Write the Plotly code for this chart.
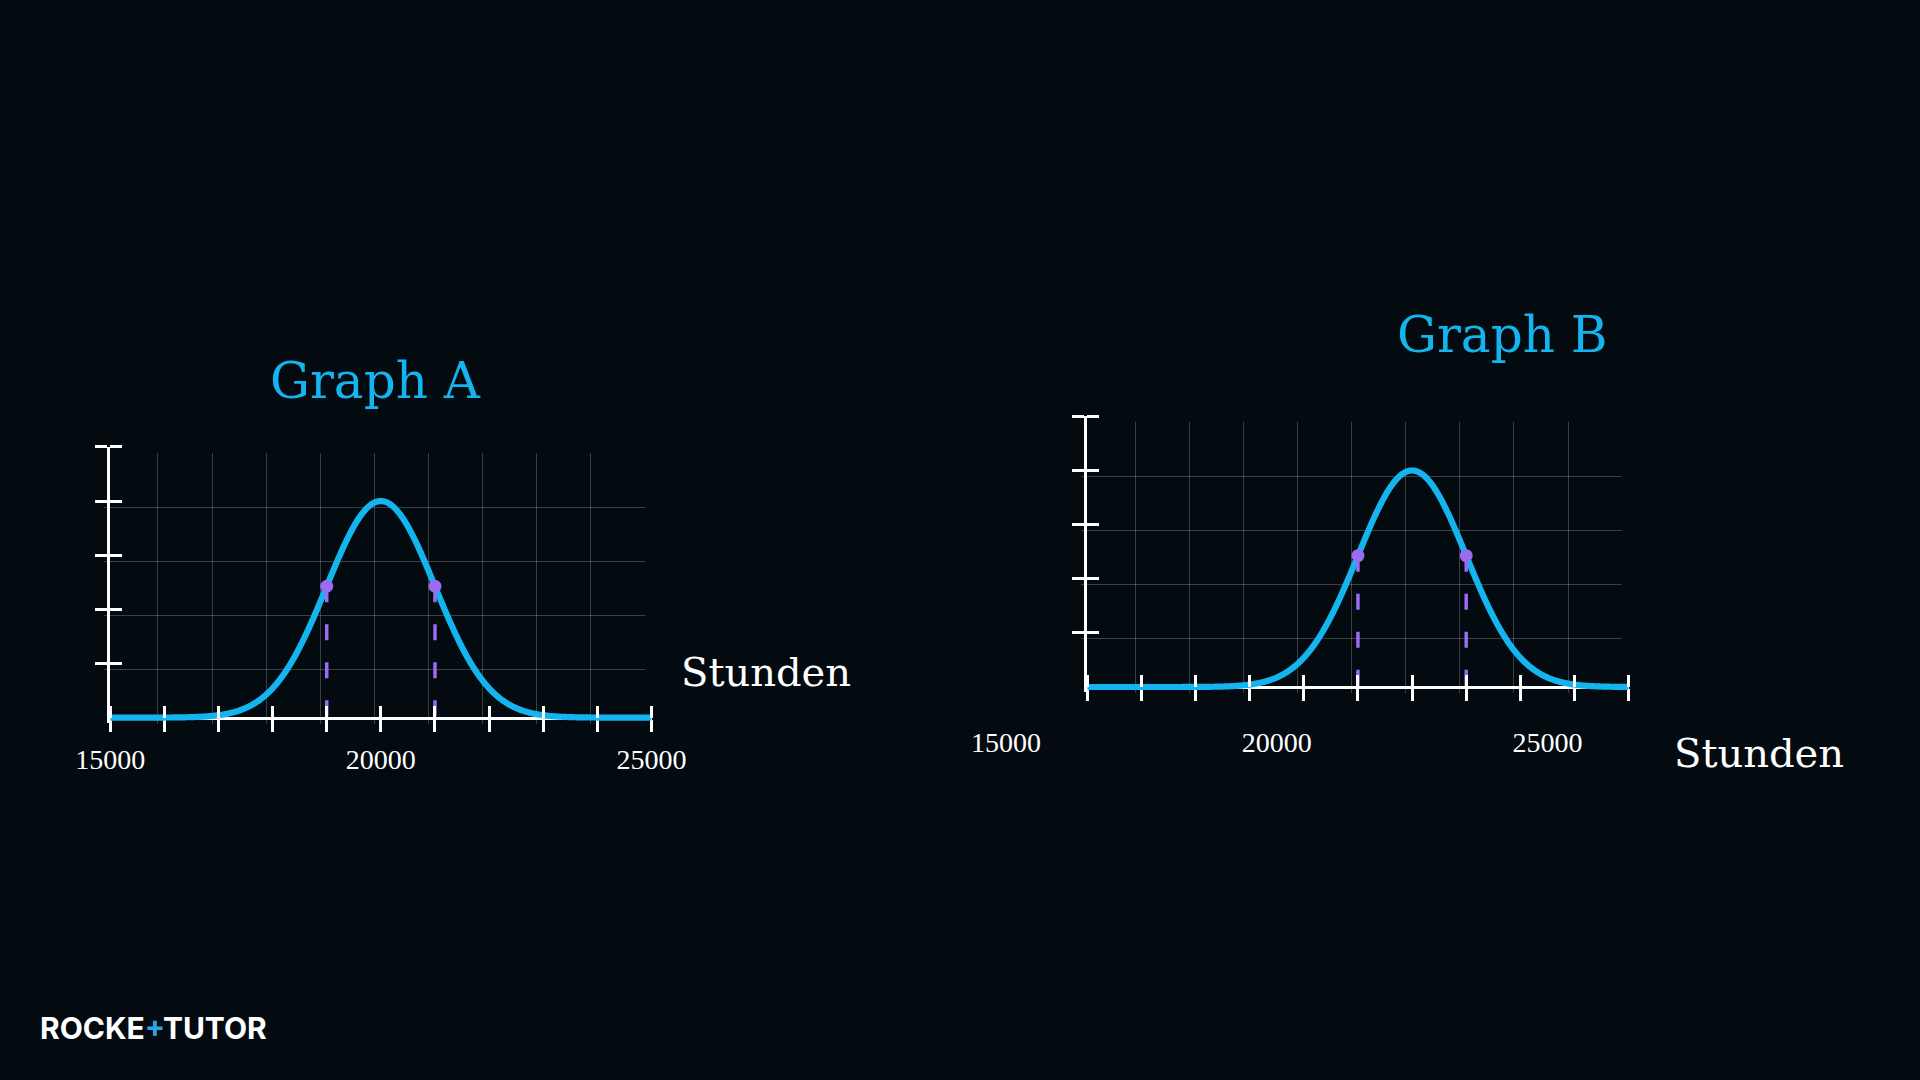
import numpy as np
import plotly.graph_objects as go

# ---------------- data ----------------
titles = ["Graph A", "Graph B"]
axis_title = "Stunden"
mean_A, sd_A, peak_A = 20000, 1000, 4
mean_B, sd_B, peak_B = 22500, 1000, 4
x_range_A = [15000, 25000]
x_range_B = [16500, 26500]
x_ticks_A = list(range(15000, 25001, 1000))
x_ticks_B = list(range(16500, 26501, 1000))
y_ticks = [1, 2, 3, 4, 5]
grid_x_A = list(range(15000, 25000, 1000))
grid_x_B = list(range(16500, 26500, 1000))
grid_y = [0, 1, 2, 3, 4]
tick_labels_A = [15000, 20000, 25000]
tick_labels_B = [15000, 20000, 25000]
sd_marks_A = [mean_A - sd_A, mean_A + sd_A]
sd_marks_B = [mean_B - sd_B, mean_B + sd_B]

# ---------------- style ----------------
W, H = 1920, 1080
BG = "#030a10"
BLUE = "#14b4ee"
PURPLE = "#9a6cf2"
GRID = "rgba(255,255,255,0.22)"
WHITE = "#ffffff"
Y_MAX = 5
Y_PAD = 0.1


def px_x(a, b):
    return [a / W, b / W]


def px_y(top, bottom):
    return [1 - bottom / H, 1 - top / H]


def py(v):
    return 1 - v / H


def gauss(x, mu, sd, peak):
    return peak * np.exp(-0.5 * ((np.asarray(x, float) - mu) / sd) ** 2)


fig = go.Figure()

# dummy traces so every subplot exists
for xa, ya in [("x", "y"), ("x2", "y2"), ("x5", "y3"), ("x3", "y5"),
               ("x6", "y4"), ("x4", "y6"), ("x7", "y3"), ("x8", "y4")]:
    fig.add_trace(go.Scatter(x=[None], y=[None], xaxis=xa, yaxis=ya,
                             showlegend=False, hoverinfo="skip"))


def add_graph(xa, ya, xr, mu, sd, peak, marks):
    xs = np.linspace(xr[0], xr[1], 801)
    fig.add_trace(go.Scatter(x=xs, y=gauss(xs, mu, sd, peak), mode="lines",
                             line=dict(color=BLUE, width=6.2, simplify=False),
                             xaxis=xa, yaxis=ya, showlegend=False, hoverinfo="skip"))
    my = gauss(marks, mu, sd, peak)
    for mx, yv in zip(marks, my):
        fig.add_trace(go.Scatter(x=[mx, mx], y=[yv, 0], mode="lines",
                                 line=dict(color=PURPLE, width=3.5, dash="16px,22px"),
                                 xaxis=xa, yaxis=ya, showlegend=False, hoverinfo="skip"))
    fig.add_trace(go.Scatter(x=marks, y=my, mode="markers",
                             marker=dict(color=PURPLE, size=13), cliponaxis=False,
                             xaxis=xa, yaxis=ya, showlegend=False, hoverinfo="skip"))


add_graph("x3", "y3", x_range_A, mean_A, sd_A, peak_A, sd_marks_A)
add_graph("x4", "y4", x_range_B, mean_B, sd_B, peak_B, sd_marks_B)

# ---------------- axes ----------------
U = 54.13  # pixels per unit
A_x0, A_y0 = 110.2, 717.6
B_x0, B_y0 = 1087.3, 687.0
GDX, GDY = -6.4, 6.0
E = 4.0  # px of slack so that end ticks drawn "inside" are kept

base = dict(type="linear", showgrid=False, zeroline=False, showline=False,
            showticklabels=False, ticks="", fixedrange=True, automargin=False)


def grid_axes(x0, y0, xr, gx):
    xd = px_x(x0 + GDX, x0 + GDX + 10 * U)
    yd = px_y(y0 + GDY - Y_MAX * U, y0 + GDY)
    xax = dict(base, domain=xd, range=xr, showgrid=True, gridcolor=GRID, gridwidth=1.2,
               tickmode="array", tickvals=gx)
    yax = dict(base, domain=yd, range=[0, Y_MAX], showgrid=True, gridcolor=GRID,
               gridwidth=1.2, tickmode="array", tickvals=grid_y)
    return xax, yax


gxA, gyA = grid_axes(A_x0, A_y0, x_range_A, grid_x_A)
gxB, gyB = grid_axes(B_x0, B_y0, x_range_B, grid_x_B)

tick_style = dict(ticklen=12, tickwidth=3, tickcolor=WHITE)


def main_axes(x0, y0, xr, xt, xmain):
    xd = px_x(x0, x0 + 10 * U)
    yd = px_y(y0 - Y_MAX * U, y0 + Y_PAD * U)
    xax = dict(base, domain=xd, range=xr, anchor="free", position=py(y0),
               showline=True, linecolor=WHITE, linewidth=3, ticks="outside",
               tickmode="array", tickvals=xt, layer="below traces", **tick_style)
    yax = dict(base, domain=yd, range=[-Y_PAD, Y_MAX], anchor=xmain,
               showline=True, linecolor=WHITE, linewidth=3, ticks="outside",
               tickmode="array", tickvals=y_ticks, layer="above traces", **tick_style)
    ex = E / U * 1000
    xin = dict(base, domain=px_x(x0 - E, x0 + 10 * U + E), range=[xr[0] - ex, xr[1] + ex],
               anchor="free", position=py(y0), ticks="inside", tickmode="array",
               tickvals=xt, layer="above traces", **tick_style)
    yin = dict(base, domain=px_y(y0 - Y_MAX * U - E, y0 + Y_PAD * U),
               range=[-Y_PAD, Y_MAX + E / U], anchor=xmain, ticks="inside",
               tickmode="array", tickvals=y_ticks, layer="above traces", **tick_style)
    return xax, yax, xin, yin


mxA, myA, xinA, yinA = main_axes(A_x0, A_y0, x_range_A, x_ticks_A, "x3")
mxB, myB, xinB, yinB = main_axes(B_x0, B_y0, x_range_B, x_ticks_B, "x4")

label_font = dict(family="Liberation Serif", size=28, color=WHITE)
LAB_A_Y = 759.5
LAB_B_Y = 743.0
LAB_OFF = 20
labA = dict(base, range=x_range_A, overlaying="x3", anchor="free",
            position=py(LAB_A_Y - LAB_OFF), showticklabels=True, tickmode="array",
            tickvals=tick_labels_A, ticktext=[str(v) for v in tick_labels_A],
            tickfont=label_font)
lab_left = B_x0 - (x_range_B[0] - tick_labels_B[0]) / 1000 * U
labB = dict(base, domain=px_x(lab_left, B_x0 + 10 * U),
            range=[tick_labels_B[0], x_range_B[1]], anchor="free",
            position=py(LAB_B_Y - LAB_OFF), showticklabels=True, tickmode="array",
            tickvals=tick_labels_B, ticktext=[str(v) for v in tick_labels_B],
            tickfont=label_font)

fig.update_layout(
    width=W, height=H, margin=dict(l=0, r=0, t=0, b=0, pad=0, autoexpand=False),
    paper_bgcolor=BG, plot_bgcolor="rgba(0,0,0,0)", showlegend=False,
    xaxis=gxA, yaxis=gyA, xaxis2=dict(gxB, anchor="y2"), yaxis2=dict(gyB, anchor="x2"),
    xaxis3=mxA, yaxis3=myA, xaxis4=mxB, yaxis4=myB,
    xaxis5=xinA, yaxis5=yinA, xaxis6=xinB, yaxis6=yinB,
    xaxis7=labA, xaxis8=labB,
)
fig.layout.xaxis.anchor = "y"
fig.layout.yaxis.anchor = "x"

# ---------------- text ----------------
ann = []
ann.append(dict(text=titles[0], x=375 / W, y=py(381), xref="paper", yref="paper",
                showarrow=False, xanchor="center", yanchor="middle",
                font=dict(family="DejaVu Serif", size=50, color=BLUE)))
ann.append(dict(text=titles[1], x=1502 / W, y=py(335), xref="paper", yref="paper",
                showarrow=False, xanchor="center", yanchor="middle",
                font=dict(family="DejaVu Serif", size=50, color=BLUE)))
ann.append(dict(text=axis_title, x=766 / W, y=py(672), xref="paper", yref="paper",
                showarrow=False, xanchor="center", yanchor="middle",
                font=dict(family="DejaVu Serif", size=40, color=WHITE)))
ann.append(dict(text=axis_title, x=1759 / W, y=py(753), xref="paper", yref="paper",
                showarrow=False, xanchor="center", yanchor="middle",
                font=dict(family="DejaVu Serif", size=40, color=WHITE)))
ann.append(dict(text="<b>ROCKE<span style='color:#2fa3e6'>+</span>TUTOR</b>",
                x=38 / W, y=py(1028), xref="paper", yref="paper", showarrow=False,
                xanchor="left", yanchor="middle",
                font=dict(family="Inter", size=30, color=WHITE)))
fig.update_layout(annotations=ann)

fig.write_html("out.html")
